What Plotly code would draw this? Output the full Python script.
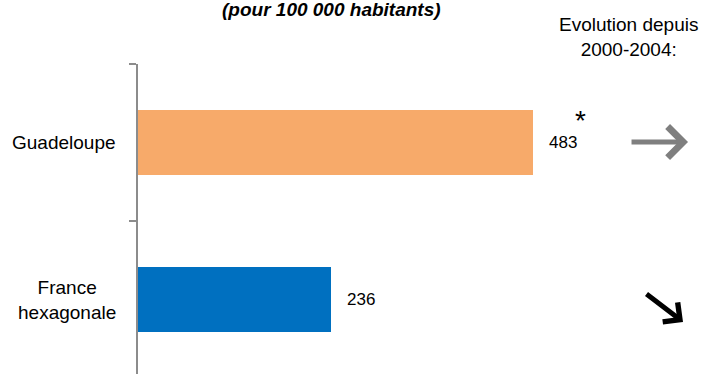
import plotly.graph_objects as go

# Incidence per 100 000 inhabitants
categories = ["Guadeloupe", "France<br>hexagonale"]
values = [483, 236]
bar_colors = ["#F7AA6A", "#0070C0"]

FONT = "Liberation Sans, Arial, sans-serif"

fig = go.Figure()
fig.add_trace(go.Bar(
    x=values,
    y=categories,
    orientation="h",
    width=0.41,
    marker=dict(color=bar_colors, line=dict(width=0)),
    hoverinfo="skip",
))

annotations = []

# Category labels, centred lines, right edge near the axis
for cat in categories:
    annotations.append(dict(
        x=0, xref="paper", y=cat, yref="y",
        text=cat, showarrow=False,
        xanchor="right", align="center", xshift=-20,
        font=dict(family=FONT, size=19, color="#000000"),
    ))

# Value labels next to the bars
for cat, v in zip(categories, values):
    annotations.append(dict(
        x=v, xref="x", y=cat, yref="y",
        text=str(v), showarrow=False,
        xanchor="left", xshift=14,
        font=dict(family=FONT, size=17, color="#000000"),
    ))

# Significance marker on the Guadeloupe value
annotations.append(dict(
    x=values[0], xref="x", y=categories[0], yref="y",
    text="*", showarrow=False, xanchor="center", yanchor="middle",
    xshift=47, yshift=22,
    font=dict(family=FONT, size=28, color="#000000"),
))

# Subtitle
annotations.append(dict(
    x=0.395, xref="paper", y=1.176, yref="paper",
    text="<b><i>(pour 100 000 habitants)</i></b>", showarrow=False,
    xanchor="center", yanchor="middle",
    font=dict(family=FONT, size=19, color="#000000"),
))

# Trend column header
annotations.append(dict(
    x=0.998, xref="paper", y=1.087, yref="paper",
    text="Evolution depuis<br>2000-2004:", showarrow=False,
    xanchor="center", yanchor="middle", align="center",
    font=dict(family=FONT, size=19, color="#000000"),
))

# Trend arrows: stable (grey), decreasing (black)
annotations.append(dict(
    x=1.1202, xref="paper", y=0.748, yref="paper",
    ax=-58, ay=0, text="", showarrow=True,
    arrowhead=4, arrowwidth=5, arrowsize=1.2, arrowcolor="#7F7F7F",
))
annotations.append(dict(
    x=1.110, xref="paper", y=0.168, yref="paper",
    ax=-38, ay=-29, text="", showarrow=True,
    arrowhead=4, arrowwidth=5, arrowsize=0.95, arrowcolor="#000000",
))

fig.update_layout(
    width=702, height=374,
    margin=dict(l=138, r=73, t=64, b=0, pad=0),
    paper_bgcolor="#FFFFFF", plot_bgcolor="#FFFFFF",
    showlegend=False,
    bargap=0,
    annotations=annotations,
    xaxis=dict(range=[0, 600], visible=False, fixedrange=True),
    yaxis=dict(
        type="category",
        categoryorder="array", categoryarray=categories,
        range=[1.474, -0.5],
        showticklabels=False,
        showline=True, linecolor="#8C8C8C", linewidth=2,
        ticks="outside", tickson="boundaries",
        ticklen=7, tickwidth=2, tickcolor="#8C8C8C",
        showgrid=False, zeroline=False, fixedrange=True,
    ),
)

fig.write_html("out.html")
